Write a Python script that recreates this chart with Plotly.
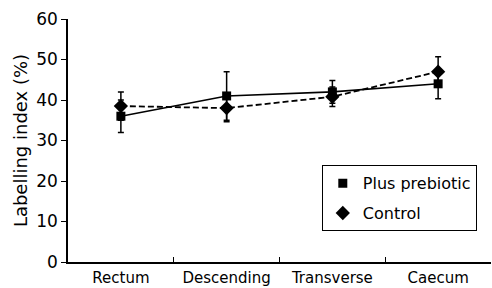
import plotly.graph_objects as go

categories = ["Rectum", "Descending", "Transverse", "Caecum"]
prebiotic = [36.0, 41.0, 42.0, 44.0]
prebiotic_err = [4.0, 6.0, 2.8, 3.7]
control = [38.5, 38.0, 40.8, 47.0]
control_err = [3.5, 3.4, 2.4, 3.7]
yticks = [0, 10, 20, 30, 40, 50, 60]

FONT = "DejaVu Sans"

fig = go.Figure()
# connecting lines (no legend)
fig.add_trace(go.Scatter(x=categories, y=prebiotic, mode="lines",
                         line=dict(color="black", width=1.6), showlegend=False, hoverinfo="skip"))
fig.add_trace(go.Scatter(x=categories, y=control, mode="lines",
                         line=dict(color="black", width=1.8, dash="6px,3px"), showlegend=False, hoverinfo="skip"))
# markers with error bars
fig.add_trace(go.Scatter(x=categories, y=prebiotic, mode="markers", name="Plus prebiotic",
                         legendgroup="a",
                         marker=dict(symbol="square", size=9, color="black"),
                         error_y=dict(type="data", array=prebiotic_err, color="black", thickness=1.5, width=3)))
fig.add_trace(go.Scatter(x=categories, y=control, mode="markers", name="Control",
                         legendgroup="b",
                         marker=dict(symbol="diamond", size=11, color="black"),
                         error_y=dict(type="data", array=control_err, color="black", thickness=1.5, width=3)))

fig.update_layout(
    width=492, height=288,
    margin=dict(l=68, r=1, t=19, b=26, autoexpand=False),
    paper_bgcolor="white", plot_bgcolor="white",
    font=dict(family=FONT, size=15, color="black"),
    showlegend=True,
    legend=dict(x=0.6, y=0.398, xanchor="left", yanchor="top",
                bordercolor="black", borderwidth=1, bgcolor="white",
                font=dict(size=16, family=FONT), itemwidth=30, tracegroupgap=6),
    xaxis=dict(type="category", range=[-0.5, 3.5], showline=True, linecolor="black", linewidth=1.5,
               ticks="inside", ticklen=5, tickcolor="black", tickson="boundaries",
               showgrid=False, zeroline=False, tickfont=dict(size=15), automargin=False,
               ticklabelstandoff=1),
    yaxis=dict(range=[0, 60], tickvals=yticks, showline=True, linecolor="black", linewidth=1.5,
               ticks="outside", ticklen=5, tickcolor="black", showgrid=False, zeroline=False,
               tickfont=dict(size=17), automargin=False,
               title=dict(text="Labelling index (%)", font=dict(size=18), standoff=4)),
)

fig.write_html("out.html", config={"displayModeBar": False},
               post_script="document.body.style.margin='0';")
